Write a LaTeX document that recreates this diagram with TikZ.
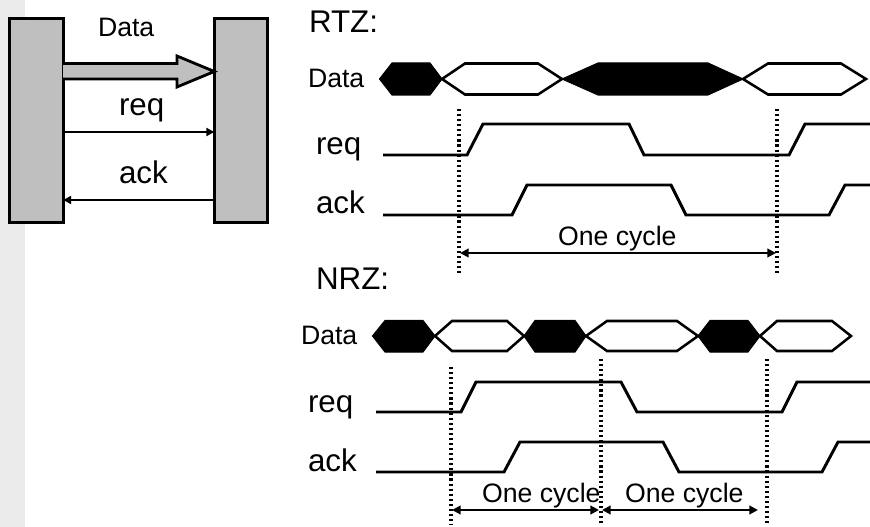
\documentclass[tikz,border=0pt]{standalone}
\usepackage{fontspec}
\setmainfont{Liberation Sans}
\usetikzlibrary{arrows.meta}
\definecolor{strip}{HTML}{EBEBEB}
\definecolor{boxgray}{HTML}{BFBFBF}
\tikzset{
  x=0.75pt,y=-0.75pt,
  lbl/.style={anchor=base west,inner sep=0pt,outer sep=0pt,text=black},
  small/.style={lbl,font=\fontsize{20pt}{23pt}\selectfont},
  big/.style={lbl,font=\fontsize{23.5pt}{27pt}\selectfont},
  unit/.style={draw=black,fill=boxgray,line width=2.1pt,minimum width=40pt,minimum height=153pt,inner sep=0pt,outer sep=0pt},
  wave/.style={draw=black,line width=2.2pt,line join=miter},
  blackcell/.style={draw=black,fill=black,line width=0.8pt,line join=miter},
  whitecell/.style={draw=black,fill=white,line width=1.9pt,line join=miter},
  dots/.style={draw=black,line width=2.3pt,dash pattern=on 1.6pt off 2.2pt},
  sig/.style={draw=black,line width=1.6pt,-{Triangle[length=6pt,width=6pt]}},
  cyc/.style={draw=black,line width=1.5pt,{Triangle[length=6.5pt,width=6.5pt]}-{Triangle[length=6.5pt,width=6.5pt]}},
}
\begin{document}
\begin{tikzpicture}
\useasboundingbox (0,0) rectangle (870,527);
\fill[strip] (0,0) rectangle (25,527);
% blocks
\node[unit] (lb) at (36.5,120.5) {};
\node[unit] (rb) at (241,120.5) {};
% data bus
\coordinate (tip) at (rb.west |- 0,71.5);
\draw[draw=black,fill=boxgray,line width=2.1pt,line join=miter]
  (lb.east |- 0,63.5) -- (177,63.5) -- (177,56) -- (tip) -- (177,87) -- (177,79) -- (lb.east |- 0,79);
\node[small] (dataT) at (98,37) {Data};
\node[big] (reqT) at (119,116) {req};
\node[big] (ackT) at (119,184) {ack};
\draw[sig] (lb.east |- 0,132) -- (rb.west |- 0,132);
\draw[sig] (rb.west |- 0,200) -- (lb.east |- 0,200);
% RTZ
\node[big] (rtz) at (309,33) {RTZ:};
\node[small] (d1) at (308,88) {Data};
\node[big] (r1) at (316,155) {req};
\node[big] (a1) at (316,214) {ack};
\path[blackcell] (379.5,79) -- (392,63) -- (430,63) -- (442,79) -- (430,95) -- (392,95) -- cycle;
\path[whitecell] (442,79) -- (465,63.5) -- (538,63.5) -- (562,79) -- (538,94.5) -- (465,94.5) -- cycle;
\path[blackcell] (562,79) -- (598,63) -- (708,63) -- (743,79) -- (708,95) -- (598,95) -- cycle;
\path[whitecell] (743,79) -- (768,63.5) -- (841,63.5) -- (866,79) -- (841,94.5) -- (768,94.5) -- cycle;
\draw[wave] (383,155) -- (467,155) -- (483,124) -- (629,124) -- (644,155) -- (789,155) -- (805,124) -- (870,124);
\draw[wave] (383,215) -- (512,215) -- (527,185) -- (671,185) -- (686,215) -- (829,215) -- (845,185) -- (870,185);
\coordinate (v1t) at (459,109); \coordinate (v1b) at (459,274);
\coordinate (v2t) at (777,109); \coordinate (v2b) at (777,274);
\draw[dots] (v1t) -- (v1b);
\draw[dots] (v2t) -- (v2b);
\coordinate (c1a) at (460,253); \coordinate (c1b) at (776,253);
\draw[cyc] (c1a) -- (c1b);
\node[small] (oc1) at (558,246) {One cycle};
% NRZ
\node[big] (nrz) at (316,289) {NRZ:};
\node[small] (d2) at (301,344) {Data};
\node[big] (r2) at (308,412) {req};
\node[big] (a2) at (308,471) {ack};
\path[blackcell] (372.5,336) -- (385,320.5) -- (423,320.5) -- (435,336) -- (423,352) -- (385,352) -- cycle;
\path[whitecell] (435,336) -- (452,321) -- (507,321) -- (524,336) -- (507,351) -- (452,351) -- cycle;
\path[blackcell] (524,336) -- (535,320.5) -- (575,320.5) -- (586,336) -- (575,352) -- (535,352) -- cycle;
\path[whitecell] (586,336) -- (607,321) -- (677,321) -- (698,336) -- (677,351) -- (607,351) -- cycle;
\path[blackcell] (698,336) -- (710,320.5) -- (748,320.5) -- (760,336) -- (748,352) -- (710,352) -- cycle;
\path[whitecell] (760,336) -- (777,321) -- (832,321) -- (851,336) -- (832,351) -- (777,351) -- cycle;
\draw[wave] (376,412) -- (461,412) -- (476,382) -- (621,382) -- (637,412) -- (782,412) -- (797,382) -- (870,382);
\draw[wave] (376,472) -- (504,472) -- (520,442) -- (663,442) -- (679,472) -- (822,472) -- (838,442) -- (870,442);
\coordinate (v3t) at (451,367); \coordinate (v3b) at (451,525);
\coordinate (v4t) at (601,359); \coordinate (v4b) at (601,525);
\coordinate (v5t) at (767,359); \coordinate (v5b) at (767,525);
\draw[dots] (v3t) -- (v3b);
\draw[dots] (v4t) -- (v4b);
\draw[dots] (v5t) -- (v5b);
\coordinate (c2a) at (452,510); \coordinate (c2b) at (599,510);
\coordinate (c3a) at (602,510); \coordinate (c3b) at (758,510);
\draw[cyc] (c2a) -- (c2b);
\draw[cyc] (c3a) -- (c3b);
\node[small] (oc2) at (482,502) {One cycle};
\node[small] (oc3) at (625,502) {One cycle};
\end{tikzpicture}
\end{document}
